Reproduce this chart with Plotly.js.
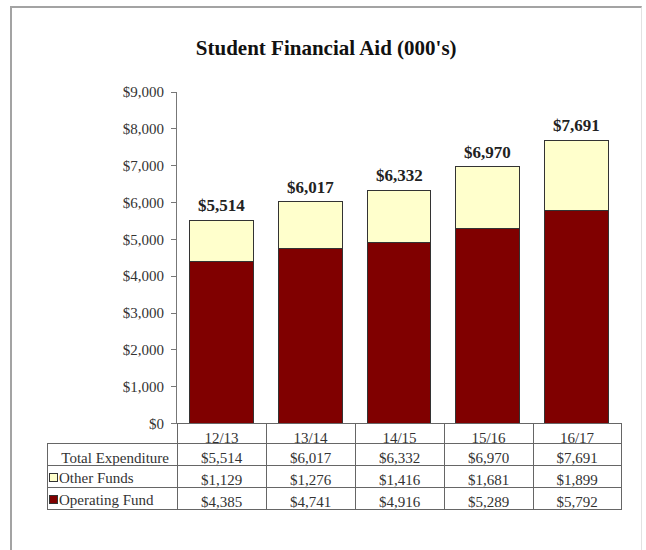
<!DOCTYPE html>
<html>
<head>
<meta charset="utf-8">
<script src="https://cdn.plot.ly/plotly-3.0.1.min.js"></script>
<style>
  body { margin: 0; background: #fff; }
  #frame { position: absolute; left: 10px; top: 6px; width: 629px; height: 600px;
           border-left: 2px solid #a3a3a3; border-top: 2px solid #a3a3a3; border-right: 1px solid #e2e2e2; }
  #chart { position: absolute; left: 0; top: 0; width: 646px; height: 550px; }
</style>
</head>
<body>
<div id="frame"></div>
<div id="chart"></div>
<script>
// fiscal years and amounts ($000)
var years = ["12/13", "13/14", "14/15", "15/16", "16/17"];
var operating = [4385, 4741, 4916, 5289, 5792];
var other = [1129, 1276, 1416, 1681, 1899];
var totals = [5514, 6017, 6332, 6970, 7691];
var rowNames = ["Total Expenditure", "Other Funds", "Operating Fund"];

var serif = "Liberation Serif, Times New Roman, serif";
var opColor = "#800000";
var otherColor = "#FFFFCC";

// table geometry (px) inside a 419px tall plot area
var plotH = 419, headH = 20, rowH = 22;
var tblTop = 0.2088;

function money(v) {
  return "$" + v.toLocaleString("en-US");
}

var fOp = {
  x: years, y: operating, type: "bar", name: rowNames[2],
  marker: { color: opColor, line: { color: "#333", width: 1 } },
  width: 0.72, hoverinfo: "skip"
};
var fOther = {
  x: years, y: other, type: "bar", name: rowNames[1],
  marker: { color: otherColor, line: { color: "#333", width: 1 } },
  width: 0.72, hoverinfo: "skip"
};

// table under the bars; legend-key labels are annotations (table wraps markup)
var cols = [[rowNames[0], "", ""]];
for (var i = 0; i < years.length; i++) {
  cols.push([money(totals[i]), money(other[i]), money(operating[i])]);
}

var tbl = {
  type: "table",
  domain: { x: [0, 1], y: [0, tblTop] },
  columnwidth: [130, 89, 89, 89, 89, 88],
  header: {
    values: [""].concat(years),
    height: headH,
    align: "center",
    fill: { color: ["rgba(0,0,0,0)", "#fff", "#fff", "#fff", "#fff", "#fff"] },
    line: { color: "#666", width: [0, 1, 1, 1, 1, 1] },
    font: { family: serif, size: 15, color: "#333" }
  },
  cells: {
    values: cols,
    height: rowH,
    align: ["right", "center", "center", "center", "center", "center"],
    fill: { color: "#fff" },
    line: { color: "#666", width: 1 },
    font: { family: serif, size: 15, color: "#333" }
  }
};

var notes = [];
for (var j = 0; j < years.length; j++) {
  notes.push({
    x: years[j], y: totals[j], xref: "x", yref: "y",
    text: money(totals[j]), showarrow: false,
    yanchor: "bottom", yshift: 3,
    font: { family: serif, size: 17, color: "#222", weight: "bold" }
  });
}

function rowY(r) {
  return tblTop - (headH + rowH * r + rowH / 2) / plotH;
}
// legend key square + label for rows 1 and 2
var keyColors = [null, otherColor, opColor];
for (var r = 1; r <= 2; r++) {
  notes.push({ xref: "paper", yref: "paper", x: 0, y: rowY(r), xanchor: "left", yanchor: "middle",
    xshift: 2, yshift: -1, showarrow: false, text: " ", width: 7, height: 7,
    bgcolor: keyColors[r], bordercolor: "#333", borderwidth: 1, borderpad: 0,
    font: { size: 4 } });
  notes.push({ xref: "paper", yref: "paper", x: 0, y: rowY(r), xanchor: "left", yanchor: "middle",
    xshift: 10, yshift: -1, showarrow: false, text: rowNames[r],
    font: { family: serif, size: 15, color: "#333" } });
}

var layout = {
  width: 646, height: 550,
  margin: { l: 47, r: 25, t: 92, b: 39 },
  paper_bgcolor: "rgba(0,0,0,0)",
  plot_bgcolor: "rgba(0,0,0,0)",
  barmode: "stack",
  showlegend: false,
  title: {
    text: "Student Financial Aid (000's)",
    xref: "container", x: 0.505, y: 0.914, yanchor: "middle",
    font: { family: serif, size: 21, color: "#111", weight: "bold" }
  },
  xaxis: {
    domain: [0.2265, 1],
    showticklabels: false, showgrid: false, zeroline: false,
    showline: false, ticks: ""
  },
  yaxis: {
    domain: [tblTop, 1],
    range: [0, 9000], dtick: 1000,
    tickprefix: "$", tickformat: ",d",
    showgrid: false, zeroline: false,
    showline: true, linecolor: "#777", linewidth: 1,
    ticks: "outside", ticklen: 5, tickcolor: "#777",
    ticklabelstandoff: 4,
    tickfont: { family: serif, size: 15, color: "#333" }
  },
  annotations: notes
};

Plotly.newPlot("chart", [fOp, fOther, tbl], layout, { displayModeBar: false, staticPlot: true });
</script>
</body>
</html>
